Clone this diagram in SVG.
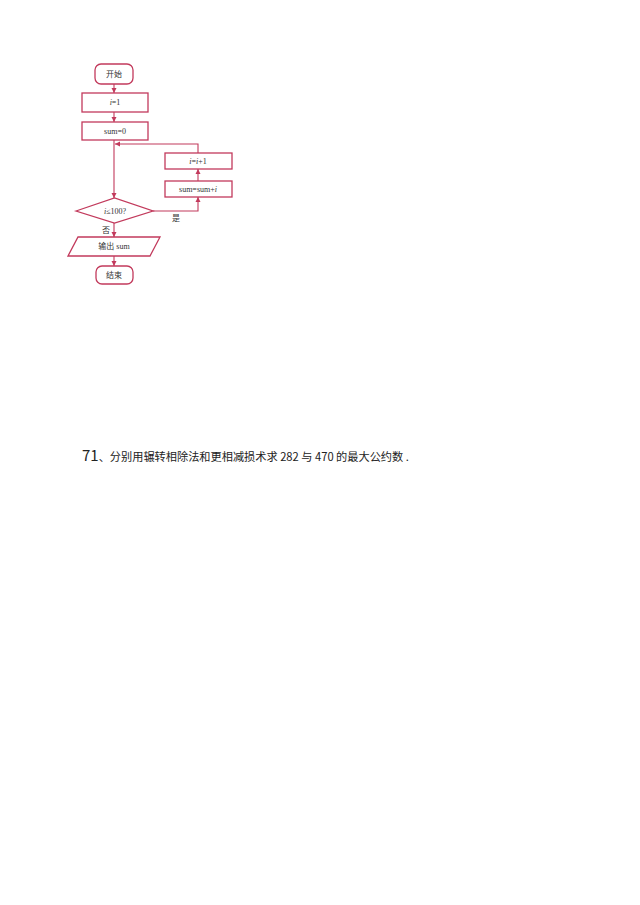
<svg xmlns="http://www.w3.org/2000/svg" width="640" height="905" viewBox="0 0 640 905">
<defs>
<marker id="ar" markerWidth="6" markerHeight="6" refX="5" refY="3" orient="auto" markerUnits="userSpaceOnUse">
<path d="M0,0.5 L5,3 L0,5.5 Z" fill="#c23a5c"/>
</marker>
<style>
.s{fill:#fff;stroke:#c23a5c;stroke-width:1.3}
.l{fill:none;stroke:#c23a5c;stroke-width:1.1}
.t{font-family:"Liberation Serif","Noto Sans CJK SC",serif;font-size:8px;fill:#333;text-anchor:middle}
.q{font-family:"Noto Sans CJK SC",sans-serif;fill:#222}
</style>
</defs>
<rect width="640" height="905" fill="#fff"/>
<g id="connectors">
<line class="l" x1="114" y1="84" x2="114" y2="93" marker-end="url(#ar)"/>
<line class="l" x1="114" y1="112" x2="114" y2="122" marker-end="url(#ar)"/>
<line class="l" x1="114" y1="140" x2="114" y2="198" marker-end="url(#ar)"/>
<polyline class="l" points="153,211 198,211 198,197" marker-end="url(#ar)"/>
<line class="l" x1="198" y1="181" x2="198" y2="169" marker-end="url(#ar)"/>
<polyline class="l" points="198,153 198,144 115,144" marker-end="url(#ar)"/>
<line class="l" x1="114" y1="223" x2="114" y2="237" marker-end="url(#ar)"/>
<line class="l" x1="114" y1="256" x2="114" y2="266" marker-end="url(#ar)"/>
<text class="t" x="176" y="221">是</text>
<text class="t" x="106" y="233">否</text>
</g>
<g id="start"><rect class="s" x="95" y="64" width="38" height="20" rx="6"/><text class="t" x="114" y="77">开始</text></g>
<g id="init-i"><rect class="s" x="82" y="93" width="66" height="19"/><text class="t" x="115" y="105"><tspan font-style="italic">i</tspan>=1</text></g>
<g id="init-sum"><rect class="s" x="82" y="122" width="66" height="18"/><text class="t" x="115" y="134">sum=0</text></g>
<g id="inc"><rect class="s" x="165" y="153" width="67" height="16"/><text class="t" x="198" y="164"><tspan font-style="italic">i</tspan>=<tspan font-style="italic">i</tspan>+1</text></g>
<g id="add"><rect class="s" x="165" y="181" width="67" height="16"/><text class="t" x="198" y="192">sum=sum+<tspan font-style="italic">i</tspan></text></g>
<g id="cond"><polygon class="s" points="76,211 114.5,198 153,211 114.5,223"/><text class="t" x="115" y="214"><tspan font-style="italic">i</tspan>≤100?</text></g>
<g id="output"><polygon class="s" points="78,237 160,237 150,256 68,256"/><text class="t" x="114" y="249">输出 sum</text></g>
<g id="end"><rect class="s" x="96" y="266" width="37" height="18" rx="6"/><text class="t" x="114" y="278">结束</text></g>
<text class="q" x="82" y="461"><tspan font-size="15">71</tspan><tspan font-size="11.2">、分别用辗转相除法和更相减损术求 282 与 470 的最大公约数 .</tspan></text>
</svg>
